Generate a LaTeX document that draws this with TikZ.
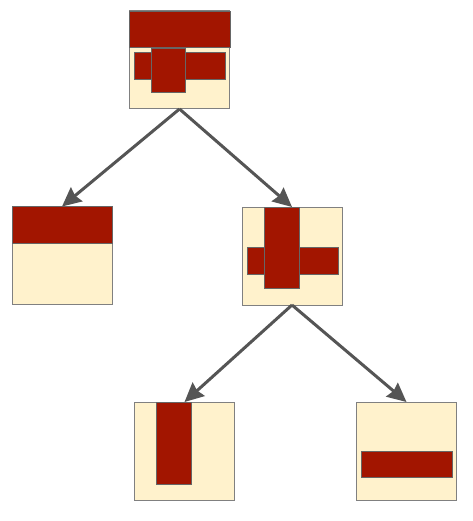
\documentclass[tikz,border=0pt]{standalone}
\usetikzlibrary{arrows.meta}
\definecolor{cream}{HTML}{FFF2CC}
\definecolor{brick}{HTML}{A21500}
\definecolor{edgegray}{HTML}{808080}
\definecolor{bargray}{HTML}{666666}
\definecolor{arrgray}{HTML}{555555}
\begin{document}
\begin{tikzpicture}[x=1pt,y=-1pt,
  box/.style={draw=edgegray,line width=1pt,fill=cream,minimum width=100pt,minimum height=98pt,inner sep=0pt,outer sep=0pt},
  bar/.style={draw=bargray,line width=0.8pt,fill=brick},
  arr/.style={draw=arrgray,line width=3pt,-{Stealth[length=19pt,width=18pt,inset=2pt]}}]
\useasboundingbox (0,0) rectangle (472,521);
% boxes
\node[box] (top) at (179.5,60) {};
\node[box] (lft) at (62,255.5) {};
\node[box] (rgt) at (292,256) {};
\node[box] (bl) at (184.5,451) {};
\node[box] (br) at (406.5,451) {};
% top box contents
\draw[bar] (top.north west) rectangle (230,47);
\draw[bar] (134.5,52) rectangle (225,79);
\draw[bar] (151,48) rectangle (185,92);
% left box contents
\draw[bar] (lft.north west) rectangle (112,243);
% right box contents
\draw[bar] (247,247) rectangle (338,274);
\draw[bar] (264,207) rectangle (299,288);
% bottom-left contents
\draw[bar] (156,402) rectangle (191,484);
% bottom-right contents
\draw[bar] (361,451) rectangle (452,477);
% connectors
\draw[arr] (top.south) -- (lft.north);
\draw[arr] (top.south) -- (rgt.north);
\draw[arr] (rgt.south) -- (bl.north);
\draw[arr] (rgt.south) -- (br.north);
\end{tikzpicture}
\end{document}
